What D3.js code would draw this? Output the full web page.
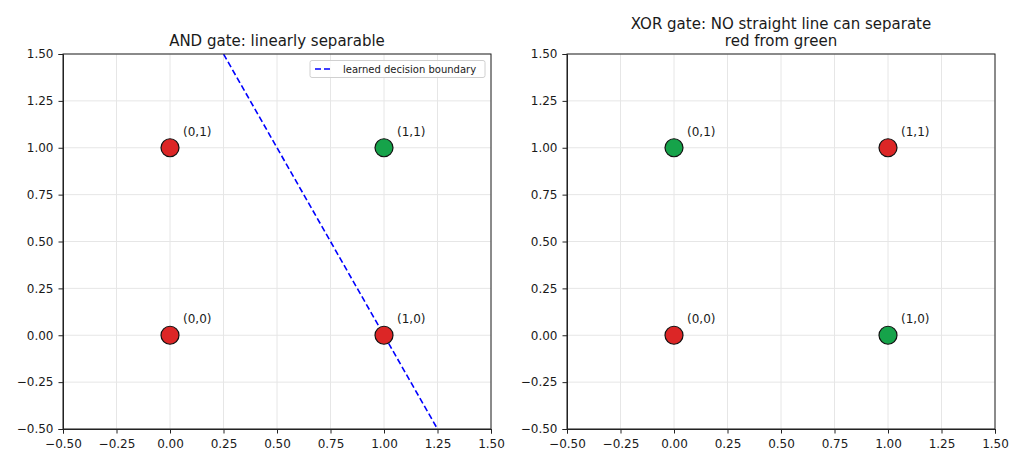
<!DOCTYPE html>
<html>
<head>
<meta charset="utf-8">
<script src="https://cdn.jsdelivr.net/npm/d3@7"></script>
<style>
  body { margin: 0; background: #fff; }
  svg text { font-family: "DejaVu Sans", sans-serif; fill: #1a1a1a; }
  .tick line { stroke: #222; }
  .domain { stroke: #222; }
</style>
</head>
<body>
<svg id="chart" width="1024" height="465"></svg>
<script>
// Gate inputs and outputs
const inputs = [[0, 0], [0, 1], [1, 0], [1, 1]];
const andOut = [0, 0, 0, 1];
const xorOut = [0, 1, 1, 0];
const pointLabels = ["(0,0)", "(0,1)", "(1,0)", "(1,1)"];

// learned perceptron for AND: w1*x + w2*y + b = 0
const andWeights = [2, 1];
const andBias = -2;

const tickValues = [-0.5, -0.25, 0, 0.25, 0.5, 0.75, 1, 1.25, 1.5];

const colors = { 0: "#dc2626", 1: "#16a34a" };

const svg = d3.select("#chart");

const panels = [
  { left: 63, title: ["AND gate: linearly separable"], out: andOut, boundary: true },
  { left: 567, title: ["XOR gate: NO straight line can separate", "red from green"], out: xorOut, boundary: false }
];

const plotTop = 54, plotBottom = 429, plotW = 428;

panels.forEach((p, pi) => {
  const x = d3.scaleLinear().domain([-0.5, 1.5]).range([p.left, p.left + plotW]);
  const y = d3.scaleLinear().domain([-0.5, 1.5]).range([plotBottom, plotTop]);

  const g = svg.append("g");

  // grid
  g.append("g").selectAll("line")
    .data(tickValues).enter().append("line")
    .attr("x1", d => x(d)).attr("x2", d => x(d))
    .attr("y1", plotTop).attr("y2", plotBottom)
    .attr("stroke", "#e6e6e6").attr("stroke-width", 1);
  g.append("g").selectAll("line")
    .data(tickValues).enter().append("line")
    .attr("y1", d => y(d)).attr("y2", d => y(d))
    .attr("x1", p.left).attr("x2", p.left + plotW)
    .attr("stroke", "#e6e6e6").attr("stroke-width", 1);

  const clipId = "clip" + pi;
  svg.append("clipPath").attr("id", clipId)
    .append("rect")
    .attr("x", p.left).attr("y", plotTop)
    .attr("width", plotW).attr("height", plotBottom - plotTop);

  // decision boundary
  if (p.boundary) {
    const xs = [-0.5, 1.5];
    const line = d3.line()
      .x(d => x(d))
      .y(d => y(-(andWeights[0] * d + andBias) / andWeights[1]));
    g.append("path")
      .attr("d", line(xs))
      .attr("clip-path", `url(#${clipId})`)
      .attr("fill", "none")
      .attr("stroke", "#0000ff")
      .attr("stroke-width", 1.6)
      .attr("stroke-dasharray", "6,3");
  }

  // points
  g.selectAll("circle.pt")
    .data(inputs).enter().append("circle")
    .attr("cx", d => x(d[0]))
    .attr("cy", d => y(d[1]))
    .attr("r", 9)
    .attr("fill", (d, i) => colors[p.out[i]])
    .attr("stroke", "#111")
    .attr("stroke-width", 1.2);

  g.selectAll("text.lbl")
    .data(inputs).enter().append("text")
    .attr("x", d => x(d[0]) + 13)
    .attr("y", d => y(d[1]) - 12)
    .style("font-size", "12px")
    .text((d, i) => pointLabels[i]);

  // axes
  const fmt = d3.format(".2f");
  const minus = v => fmt(v).replace("-", "\u2212");
  g.append("g")
    .attr("transform", `translate(0,${plotBottom})`)
    .call(d3.axisBottom(x).tickValues(tickValues).tickFormat(minus).tickSizeOuter(0).tickSize(4.5).tickPadding(4))
    .call(a => a.selectAll("text").style("font-size", "12px").attr("dy", "0.85em"));
  g.append("g")
    .attr("transform", `translate(${p.left},0)`)
    .call(d3.axisLeft(y).tickValues(tickValues).tickFormat(minus).tickSizeOuter(0).tickSize(4.5).tickPadding(5))
    .call(a => a.selectAll("text").style("font-size", "12px"));

  // frame
  g.append("rect")
    .attr("x", p.left).attr("y", plotTop)
    .attr("width", plotW).attr("height", plotBottom - plotTop)
    .attr("fill", "none").attr("stroke", "#222").attr("stroke-width", 1);

  // title
  const t = g.append("text")
    .attr("x", p.left + plotW / 2)
    .attr("text-anchor", "middle")
    .style("font-size", "15px");
  p.title.forEach((line, i) => {
    t.append("tspan")
      .attr("x", p.left + plotW / 2)
      .attr("y", plotTop - 8 - (p.title.length - 1 - i) * 17)
      .text(line);
  });

  // legend
  if (p.boundary) {
    const lg = g.append("g").attr("transform", `translate(${p.left + plotW - 181},${plotTop + 6.5})`);
    lg.append("rect")
      .attr("width", 175).attr("height", 17).attr("rx", 2)
      .attr("fill", "#fff").attr("fill-opacity", 0.8)
      .attr("stroke", "#d0d0d0");
    lg.append("line")
      .attr("x1", 5).attr("x2", 23).attr("y1", 8.5).attr("y2", 8.5)
      .attr("stroke", "#0000ff").attr("stroke-width", 1.6)
      .attr("stroke-dasharray", "6,3");
    lg.append("text")
      .attr("x", 33).attr("y", 12)
      .style("font-size", "10px")
      .text("learned decision boundary");
  }
});
</script>
</body>
</html>
